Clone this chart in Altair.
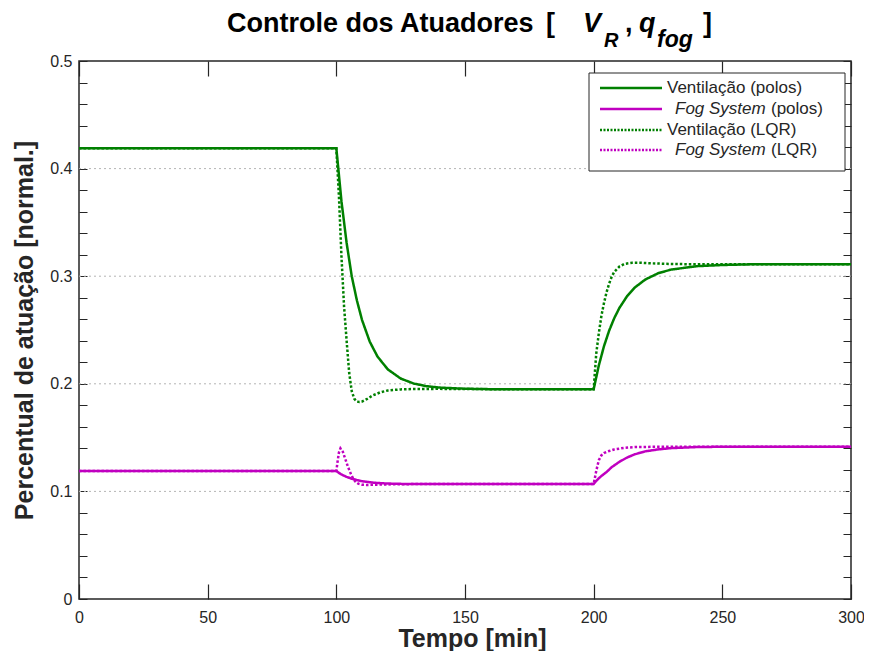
import altair as alt
import pandas as pd

# ---------------- data ----------------
T_VENT_POLOS = [0, 100, 102, 104, 106, 108, 110, 113, 116, 120, 125, 130, 135, 140, 150, 160, 200,
                202, 204, 206, 208, 210, 213, 216, 220, 225, 230, 240, 250, 260, 300]
V_VENT_POLOS = [0.419, 0.419, 0.3695, 0.3309, 0.2998, 0.2774, 0.2592, 0.2391, 0.2253, 0.2134, 0.2049,
                0.2003, 0.1978, 0.1965, 0.1954, 0.1950, 0.1950, 0.2170, 0.2349, 0.2493, 0.2610, 0.2705,
                0.2815, 0.2895, 0.2968, 0.3027, 0.3061, 0.3093, 0.3104, 0.3110, 0.3110]

T_VENT_LQR = [0, 100, 101, 102, 103, 104, 105, 106, 107, 108, 109, 110, 112, 114, 117, 120, 125, 130,
              140, 160, 200, 201, 202, 203, 204, 205, 206, 207, 208, 210, 212, 215, 218, 222, 228, 240, 300]
V_VENT_LQR = [0.419, 0.419, 0.375, 0.318, 0.272, 0.240, 0.210, 0.193, 0.186, 0.1835, 0.183, 0.1835,
              0.186, 0.189, 0.192, 0.1938, 0.1948, 0.1952, 0.1953, 0.195, 0.195, 0.228, 0.247, 0.263,
              0.275, 0.285, 0.293, 0.2995, 0.304, 0.309, 0.3115, 0.3125, 0.3125, 0.312, 0.3115, 0.311, 0.311]

T_FOG_POLOS = [0, 100, 101, 102, 104, 106, 108, 110, 113, 116, 120, 125, 135, 200, 201, 202, 203, 205,
               207, 210, 213, 216, 220, 225, 230, 240, 250, 300]
V_FOG_POLOS = [0.119, 0.119, 0.1172, 0.1157, 0.1135, 0.1118, 0.1105, 0.1095, 0.1085, 0.1078, 0.1073,
               0.1070, 0.1068, 0.1068, 0.1098, 0.1122, 0.1143, 0.1180, 0.1225, 0.1275, 0.1315, 0.1345,
               0.1372, 0.1390, 0.1402, 0.1412, 0.1415, 0.1415]

T_FOG_LQR = [0, 100, 100.5, 101, 101.6, 102.5, 103.5, 104.5, 105.5, 106.5, 107.5, 108.5, 110, 112, 115,
             120, 130, 200, 201, 202, 203, 204, 206, 208, 212, 216, 225, 300]
V_FOG_LQR = [0.119, 0.119, 0.128, 0.136, 0.140, 0.137, 0.130, 0.123, 0.117, 0.112, 0.1088, 0.1072,
             0.1062, 0.106, 0.1062, 0.1065, 0.1068, 0.1068, 0.119, 0.129, 0.1335, 0.1357, 0.1375,
             0.139, 0.1405, 0.1412, 0.1415, 0.1415]

SERIES = ["Ventilação (polos)", "Fog System (polos)", "Ventilação (LQR)", "Fog System (LQR)"]
X_TICKS = [0, 50, 100, 150, 200, 250, 300]
Y_MINOR_TICKS = [0, 0.02, 0.04, 0.06, 0.08, 0.1, 0.12, 0.14, 0.16, 0.18, 0.2, 0.22, 0.24, 0.26, 0.28,
                 0.3, 0.32, 0.34, 0.36, 0.38, 0.4, 0.42, 0.44, 0.46, 0.48, 0.5]
Y_GRID = [0.1, 0.2, 0.3, 0.4]

# ---------------- styling ----------------
W, H = 772, 538
XT_LEN, YT_LEN = 15, 8
GREEN = "#008000"
MAGENTA = "#c000c0"
DARK = "#262626"
FONT = "Liberation Sans"

rows = []
for name, ts, vs in [(SERIES[0], T_VENT_POLOS, V_VENT_POLOS), (SERIES[1], T_FOG_POLOS, V_FOG_POLOS),
                     (SERIES[2], T_VENT_LQR, V_VENT_LQR), (SERIES[3], T_FOG_LQR, V_FOG_LQR)]:
    for t, v in zip(ts, vs):
        rows.append({"t": t, "v": v, "serie": name})
df = pd.DataFrame(rows)

xscale = alt.Scale(domain=[0, 300], nice=False)
yscale = alt.Scale(domain=[0, 0.5], nice=False)
one = alt.Data(values=[{"a": 1}])

# inward ticks on all four sides are drawn as dashed axis grid lines (tick, gap, tick)
X_AXIS = alt.Axis(
    values=X_TICKS, title="Tempo [min]", domain=False, ticks=False, tickSize=0,
    grid=True, gridColor=DARK, gridWidth=1.2, gridOpacity=1,
    gridDash=[XT_LEN, H - 2 * XT_LEN, XT_LEN],
    labelFontSize=16, labelColor=DARK, labelPadding=10, labelFont=FONT, labelFlush=False,
    titleFontSize=25, titleFontWeight="bold", titleColor=DARK, titleFont=FONT,
    titleX=393, titleY=47, titleBaseline="alphabetic", titleAlign="center")
Y_AXIS = alt.Axis(
    values=Y_MINOR_TICKS,
    labelExpr="abs(datum.value * 10 - round(datum.value * 10)) < 0.001 ? format(datum.value, '.1~f') : ''",
    title="Percentual de atuação [normal.]", domain=False, ticks=False, tickSize=0,
    grid=True, gridColor=DARK, gridWidth=1.2, gridOpacity=1,
    gridDash=[YT_LEN, W - 2 * YT_LEN, YT_LEN],
    labelFontSize=16, labelColor=DARK, labelPadding=7, labelFont=FONT, labelFlush=False,
    labelOverlap=False,
    titleFontSize=25, titleFontWeight="bold", titleColor=DARK, titleFont=FONT,
    titleAngle=270, titleX=-55, titleY=269, titleAlign="center", titleBaseline="middle")

grid = alt.Chart(pd.DataFrame({"v": Y_GRID})).mark_rule(
    color="#b4b4b4", strokeDash=[2, 3], strokeWidth=1
).encode(y=alt.Y("v:Q", scale=yscale, axis=Y_AXIS), x=alt.value(0), x2=alt.value(W))

lines = alt.Chart(df).mark_line(strokeWidth=2.5).encode(
    x=alt.X("t:Q", scale=xscale, axis=X_AXIS),
    y=alt.Y("v:Q", scale=yscale, axis=Y_AXIS),
    color=alt.Color("serie:N", scale=alt.Scale(domain=SERIES, range=[GREEN, MAGENTA, GREEN, MAGENTA]),
                    legend=None),
    strokeDash=alt.StrokeDash("serie:N", scale=alt.Scale(
        domain=SERIES, range=[[1, 0], [1, 0], [2.5, 2], [2.5, 2]]), legend=None),
    order=alt.Order("t:Q"),
)

layers = [grid, lines]

# legend box
layers.append(alt.Chart(one).mark_rect(fill="white", stroke=DARK, strokeWidth=1).encode(
    x=alt.value(510), x2=alt.value(766), y=alt.value(12), y2=alt.value(110)))

row_y = [27, 48, 69, 89]
row_col = [GREEN, MAGENTA, GREEN, MAGENTA]
row_dash = [[1, 0], [1, 0], [2, 1.5], [2, 1.5]]
for yy, c, d in zip(row_y, row_col, row_dash):
    layers.append(alt.Chart(one).mark_rule(color=c, strokeWidth=2.5, strokeDash=d).encode(
        x=alt.value(521), x2=alt.value(583), y=alt.value(yy)))


def txt(s, x, y, size, weight="normal", style="normal", color=DARK, baseline="alphabetic"):
    return alt.Chart(one).mark_text(
        text=s, fontSize=size, fontWeight=weight, fontStyle=style, color=color,
        align="left", baseline=baseline, font=FONT
    ).encode(x=alt.value(x), y=alt.value(y))


LEG = 17
layers.append(txt("Ventilação (polos)", 588, row_y[0], LEG, baseline="middle"))
layers.append(txt("Fog System", 596, row_y[1], LEG, style="italic", baseline="middle"))
layers.append(txt("(polos)", 692, row_y[1], LEG, baseline="middle"))
layers.append(txt("Ventilação (LQR)", 588, row_y[2], LEG, baseline="middle"))
layers.append(txt("Fog System", 596, row_y[3], LEG, style="italic", baseline="middle"))
layers.append(txt("(LQR)", 692, row_y[3], LEG, baseline="middle"))

# title pieces
layers.append(txt("Controle dos Atuadores", 148, -29, 27, weight="bold", color="black"))
layers.append(txt("[", 467, -29, 27, weight="bold", color="black"))
layers.append(txt("V", 504, -29, 27, weight="bold", style="italic", color="black"))
layers.append(txt("R", 525, -14, 20, weight="bold", style="italic", color="black"))
layers.append(txt(",", 546, -29, 27, weight="bold", color="black"))
layers.append(txt("q", 560, -29, 27, weight="bold", style="italic", color="black"))
layers.append(txt("fog", 578, -14, 23, weight="bold", style="italic", color="black"))
layers.append(txt("]", 624, -29, 27, weight="bold", color="black"))

chart = alt.layer(*layers).properties(
    width=W, height=H,
    autosize=alt.AutoSizeParams(type="none"),
    padding={"left": 71, "top": 53, "right": 13, "bottom": 52},
).configure(
    font=FONT, background="white",
    view=alt.ViewConfig(stroke=DARK, strokeWidth=1.5),
)

chart.save("out.html", embed_options={"renderer": "svg", "actions": False})
